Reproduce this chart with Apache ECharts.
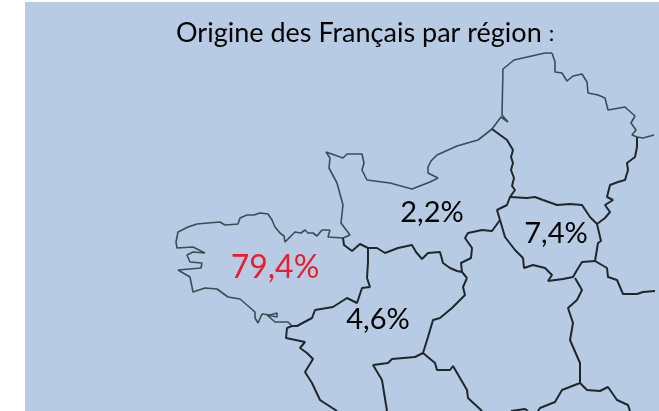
<!DOCTYPE html>
<html>
<head>
<meta charset="utf-8">
<title>Origine des Français par région</title>
<style>
  html, body { margin: 0; padding: 0; background: #fff; }
  #chart { width: 659px; height: 411px; }
</style>
</head>
<body>
<div id="chart"></div>
<script src="https://cdn.jsdelivr.net/npm/echarts@6/dist/echarts.min.js"></script>
<script>
// [x, y] in image pixels
var coastNorth = [[552,53],[545,53],[514,60],[503,69],[502,115],[508,122],[501,117],[492,129],[478,140],[457,146],[437,155],[431,161],[428,167],[428,173],[438,178],[430,182],[412,189],[390,183],[367,180],[362,170],[364,163],[362,154],[347,154],[343,158],[326,152],[330,158],[329,168],[337,183],[343,205],[341,223],[350,235],[343,238],[328,237],[330,230]]
var coastBrittany = [[330,230],[322,230],[317,236],[313,233],[308,233],[305,230],[301,233],[295,232],[285,242],[284,236],[280,233],[275,227],[272,220],[268,214],[260,213],[254,215],[247,215],[240,218],[238,224],[225,225],[220,222],[208,223],[197,224],[188,227],[178,232],[176,242],[177,248],[193,247],[205,253],[193,252],[187,255],[190,262],[202,263],[201,268],[178,270],[190,277],[193,292],[205,288],[217,289],[228,297],[240,299],[255,312],[255,318],[258,323],[262,314],[270,315],[277,313],[277,317],[267,315],[275,322],[288,322],[292,326]]
var coastVendee = [[292,326],[287,328],[286,338],[305,342],[300,348],[307,353],[313,359],[305,372],[312,383],[320,400],[337,411]]
var borderBrittany = [[343,238],[344,245],[352,251],[360,244],[368,248],[368,262],[367,278],[370,287],[362,288],[357,303],[347,298],[333,307],[315,310],[312,318],[297,326],[292,326]]
var borderNormandySouth = [[368,248],[377,248],[385,253],[398,248],[412,245],[416,252],[422,259],[428,253],[440,252],[443,263],[450,268],[457,271],[462,272],[467,278]]
var borderNormandyEast = [[462,272],[461,263],[471,258],[472,248],[465,238],[468,233],[482,230],[492,231],[500,220],[497,210],[507,205],[510,197],[515,190],[512,186],[514,178],[511,170],[513,163],[511,157],[513,150],[507,140],[492,129]]
var borderParisSouth = [[500,220],[505,237],[515,250],[523,258],[524,268],[533,265],[545,268],[552,275],[548,281],[563,279],[573,277],[577,270],[582,262],[595,261]]
var borderParisEast = [[595,261],[598,243],[601,241],[597,224]]
var borderParisNorth = [[510,197],[527,198],[535,197],[543,200],[557,205],[570,204],[582,205],[590,217],[597,224]]
var frontierNorth = [[552,53],[555,62],[555,72],[562,73],[567,81],[573,76],[582,74],[587,82],[588,93],[598,95],[605,98],[608,110],[609,108],[625,107],[635,116],[631,123],[636,130],[632,135],[637,137],[643,138],[654,135]]
var borderNorthEast = [[637,137],[637,147],[635,157],[627,163],[628,170],[625,180],[618,182],[610,185],[607,197],[613,200],[605,205],[610,212],[605,218],[597,224]]
var borderEastBranch = [[595,261],[607,268],[608,277],[617,280],[623,294],[637,294],[643,292],[655,291]]
var borderCentreEast = [[575,278],[582,290],[577,300],[568,308],[573,323],[570,340],[580,363],[580,383],[562,390],[555,402],[540,408],[538,411]]
var borderBurgundySouth = [[580,383],[587,390],[600,391],[608,387],[617,400],[628,405],[630,411]]
var borderLoireCentre = [[467,278],[463,287],[465,295],[452,308],[440,318],[433,320],[428,337],[423,353]]
var borderPoitou = [[423,353],[415,357],[392,359],[388,363],[373,365],[382,380],[387,411]]
var borderLimousin = [[423,353],[435,363],[437,370],[450,370],[453,366],[467,390],[468,398],[482,411]]
var borderBottom = [[511,411],[525,409],[528,411]]

var coastLines = [coastNorth, coastBrittany, frontierNorth]
var landLines = [borderBrittany, borderNormandySouth, borderNormandyEast, borderParisSouth, borderParisEast, borderParisNorth, borderNorthEast, borderEastBranch, borderCentreEast, borderBurgundySouth, borderLoireCentre, borderPoitou, borderLimousin, borderBottom, coastVendee]

var regionLabels = ['79,4%', '2,2%', '7,4%', '4,6%']
var regionPoints = [[275,268], [432,213], [556,234], [378,320]]
var titleText = 'Origine des Français par région'

function lineSeries(points, color, width) {
  return {
    type: 'line',
    data: points,
    showSymbol: false,
    symbol: 'none',
    silent: true,
    animation: false,
    lineStyle: { color: color, width: width },
  }
}

var series = []
for (var i = 0; i < coastLines.length; i++) {
  series.push(lineSeries(coastLines[i], '#3f4a57', 1.6))
}
for (var i = 0; i < landLines.length; i++) {
  series.push(lineSeries(landLines[i], '#20262d', 2))
}
series.push({
  type: 'scatter',
  symbolSize: 0,
  silent: true,
  animation: false,
  itemStyle: { opacity: 1 },
  data: regionPoints.map(function (p, i) {
    return {
      value: p,
      label: {
        show: true,
        formatter: regionLabels[i],
        position: 'inside',
        fontFamily: 'Lato',
        fontSize: i === 0 ? 32 : 29,
        color: i === 0 ? '#ec1c2e' : '#000',
        opacity: 1,
      },
    }
  }),
})

var chart = echarts.init(document.getElementById('chart'))
chart.setOption({
  animation: false,
  title: {
    text: titleText + ' {c|:}',
    left: 176,
    top: 20,
    padding: 0,
    textStyle: {
      fontFamily: 'Lato',
      fontSize: 27,
      fontWeight: 'normal',
      color: '#000',
      rich: { c: { fontFamily: 'Lato', fontSize: 22, color: '#000' } },
    },
  },
  grid: { left: 25, right: 0, top: 2, bottom: 0, show: true, backgroundColor: '#b7cce4', borderWidth: 0 },
  xAxis: { type: 'value', min: 25, max: 659, show: false },
  yAxis: { type: 'value', min: 2, max: 411, inverse: true, show: false },
  series: series,
})
</script>
</body>
</html>
